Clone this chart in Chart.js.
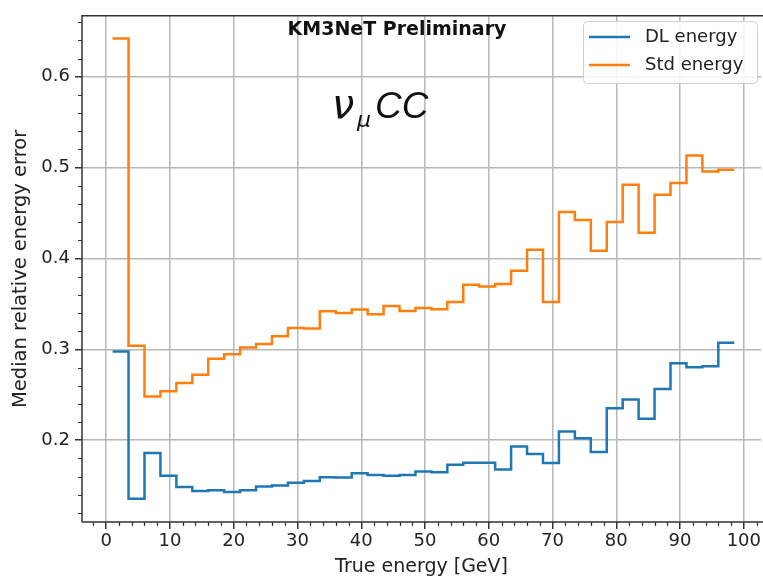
<!DOCTYPE html>
<html>
<head>
<meta charset="utf-8">
<script src="https://cdn.jsdelivr.net/npm/chart.js@4.4.0/dist/chart.umd.min.js"></script>
<style>
  html, body { margin: 0; padding: 0; background: #fff; }
</style>
</head>
<body>
<canvas id="energyChart" width="763" height="579"></canvas>
<script>
// bin edges [GeV] (left edges + last right edge)
const binEdges = [1, 3.5, 6, 8.5, 11, 13.5, 16, 18.5, 21, 23.5, 26, 28.5, 31, 33.5, 36, 38.5, 41, 43.5, 46, 48.5,
                  51, 53.5, 56, 58.5, 61, 63.5, 66, 68.5, 71, 73.5, 76, 78.5, 81, 83.5, 86, 88.5, 91, 93.5, 96, 98.5];
const dlEnergy = [0.2975, 0.1357, 0.1859, 0.161, 0.1484, 0.144, 0.1448, 0.1429, 0.1448, 0.1491, 0.1502, 0.1532, 0.155,
                  0.1593, 0.159, 0.1637, 0.1618, 0.1608, 0.1618, 0.1657, 0.1648, 0.1731, 0.1753, 0.1753, 0.1677, 0.1931,
                  0.1848, 0.175, 0.2095, 0.2022, 0.187, 0.2353, 0.2448, 0.2237, 0.2564, 0.2847, 0.2804, 0.2815, 0.3073];
const stdEnergy = [0.642, 0.304, 0.248, 0.254, 0.263, 0.272, 0.2895, 0.2946, 0.302, 0.306, 0.3145, 0.3235, 0.323,
                   0.342, 0.340, 0.3437, 0.3386, 0.3477, 0.3422, 0.3455, 0.3441, 0.352, 0.371, 0.3692, 0.372, 0.3866,
                   0.4095, 0.352, 0.451, 0.4423, 0.4084, 0.4402, 0.4811, 0.4284, 0.4702, 0.483, 0.5132, 0.4957, 0.4975];
const xTicks = [0, 10, 20, 30, 40, 50, 60, 70, 80, 90, 100];
const yTicks = [0.2, 0.3, 0.4, 0.5, 0.6];
const seriesLabels = ['DL energy', 'Std energy'];
const seriesColors = ['#1f77b4', '#ff7f0e'];

const FONT = '"DejaVu Sans", sans-serif';
const TEXT = '#222';

function stepPoints(values) {
    let pts = [];
    for (let i = 0; i < binEdges.length; i++) {
        pts.push({ x: binEdges[i], y: values[Math.min(i, values.length - 1)] });
    }
    return pts;
}

const extras = {
    id: 'extras',
    afterDatasetsDraw(chart) {
        const ctx = chart.ctx;
        const a = chart.chartArea;
        const xs = chart.scales.x, ys = chart.scales.y;
        ctx.save();

        // minor ticks
        ctx.strokeStyle = '#333';
        ctx.lineWidth = 1.2;
        ctx.beginPath();
        for (let v = -2; v <= 102; v += 2) {
            if (v % 10 === 0) continue;
            const px = Math.round(xs.getPixelForValue(v)) + 0.5;
            ctx.moveTo(px, a.bottom);
            ctx.lineTo(px, a.bottom + 4);
        }
        for (let k = 6; k <= 33; k++) {
            if (k % 5 === 0) continue;
            const py = Math.round(ys.getPixelForValue(k * 0.02)) + 0.5;
            ctx.moveTo(a.left, py);
            ctx.lineTo(a.left - 4, py);
        }
        ctx.stroke();

        // spines
        ctx.strokeStyle = '#333';
        ctx.lineWidth = 1.5;
        ctx.beginPath();
        ctx.moveTo(a.left, a.bottom);
        ctx.lineTo(a.left, a.top);
        ctx.lineTo(a.right + 2, a.top);
        ctx.moveTo(a.left, a.bottom);
        ctx.lineTo(a.right + 2, a.bottom);
        ctx.stroke();

        // header texts
        ctx.fillStyle = '#111';
        ctx.textBaseline = 'middle';
        ctx.textAlign = 'center';
        ctx.font = 'bold 19px ' + FONT;
        ctx.fillText('KM3NeT Preliminary', 397, 30);

        ctx.textAlign = 'left';
        ctx.textBaseline = 'alphabetic';
        ctx.font = 'oblique 40px "DejaVu Sans"';
        ctx.fillText('ν', 332, 118);
        ctx.font = 'oblique 22px "DejaVu Sans"';
        ctx.fillText('μ', 357, 127);
        ctx.font = 'italic 37px "Liberation Sans"';
        ctx.fillText('CC', 375, 118);

        // legend
        const lx = 583, ly = 21, lw = 174, lh = 62;
        ctx.fillStyle = 'rgba(255,255,255,0.85)';
        ctx.strokeStyle = '#d0d0d0';
        ctx.lineWidth = 1;
        ctx.beginPath();
        ctx.roundRect(lx + 0.5, ly + 0.5, lw, lh, 4);
        ctx.fill();
        ctx.stroke();
        ctx.font = '18px ' + FONT;
        ctx.textBaseline = 'middle';
        for (let i = 0; i < seriesLabels.length; i++) {
            const yy = 37 + i * 28;
            ctx.strokeStyle = seriesColors[i];
            ctx.lineWidth = 2.5;
            ctx.beginPath();
            ctx.moveTo(589, yy);
            ctx.lineTo(630, yy);
            ctx.stroke();
            ctx.fillStyle = TEXT;
            ctx.fillText(seriesLabels[i], 645, yy);
        }
        ctx.restore();
    }
};

new Chart(document.getElementById('energyChart'), {
    type: 'line',
    data: {
        datasets: [
            { label: seriesLabels[0], data: stepPoints(dlEnergy), borderColor: seriesColors[0], borderWidth: 2.5,
              stepped: 'before', pointRadius: 0, fill: false },
            { label: seriesLabels[1], data: stepPoints(stdEnergy), borderColor: seriesColors[1], borderWidth: 2.5,
              stepped: 'before', pointRadius: 0, fill: false }
        ]
    },
    options: {
        responsive: false,
        animation: false,
        devicePixelRatio: 1,
        layout: { padding: { top: 11, right: 0, left: 0, bottom: 0 } },
        plugins: { legend: { display: false }, tooltip: { enabled: false } },
        scales: {
            x: {
                type: 'linear',
                min: -3.8,
                max: 102.7,
                afterBuildTicks: s => { s.ticks = xTicks.map(v => ({ value: v })); },
                afterFit: s => { s.height = 57; },
                grid: { color: '#b8b8b8', lineWidth: 1.5, tickLength: 7, tickColor: '#333', tickWidth: 1.5 },
                border: { display: false },
                ticks: { font: { family: FONT, size: 18 }, color: TEXT, padding: 2, maxRotation: 0 },
                title: { display: true, text: 'True energy [GeV]', font: { family: FONT, size: 19 }, color: TEXT,
                         padding: { top: 0, bottom: 1 } }
            },
            y: {
                type: 'linear',
                min: 0.110,
                max: 0.667,
                afterBuildTicks: s => { s.ticks = yTicks.map(v => ({ value: v })); },
                afterFit: s => { s.width = 82; },
                grid: { color: '#b8b8b8', lineWidth: 1.5, tickLength: 7, tickColor: '#333', tickWidth: 1.5 },
                border: { display: false },
                ticks: { font: { family: FONT, size: 18 }, color: TEXT, padding: 5,
                         callback: v => v.toFixed(1) },
                title: { display: true, text: 'Median relative energy error', font: { family: FONT, size: 19.5 },
                         color: TEXT, padding: { top: 9, bottom: 0 } }
            }
        }
    },
    plugins: [extras]
});
</script>
</body>
</html>
